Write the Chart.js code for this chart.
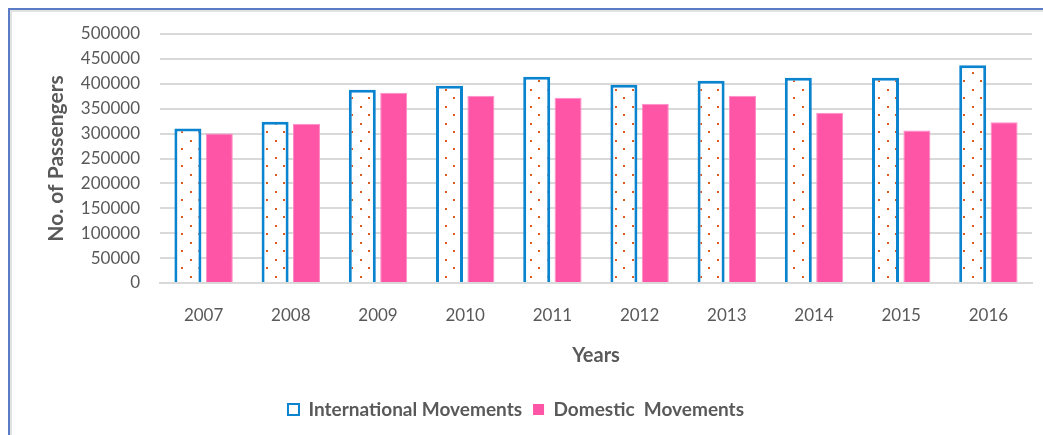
<!DOCTYPE html>
<html>
<head>
<meta charset="utf-8">
<script src="https://cdn.jsdelivr.net/npm/chart.js@4"></script>
<style>
  html, body { margin: 0; padding: 0; background: #fff; }
  #wrap { position: relative; width: 1043px; height: 435px; overflow: hidden; }
  #frame {
    position: absolute; left: 8px; top: 8px; width: 1100px; height: 500px;
    border-left: 2px solid #5a7cc6; border-top: 2px solid #5a7cc6;
    box-shadow: inset 2px 2px 0 #e2e2e2;
  }
  #passengerChart { position: absolute; left: 0; top: 0; }
</style>
</head>
<body>
<div id="wrap">
  <div id="frame"></div>
  <canvas id="passengerChart" width="1043" height="435"></canvas>
</div>
<script>
var years = ['2007', '2008', '2009', '2010', '2011', '2012', '2013', '2014', '2015', '2016'];
var international = [310000, 324000, 388000, 396000, 414000, 398000, 406000, 412000, 412000, 437000];
var domestic = [300000, 320000, 382000, 376000, 372000, 360000, 376000, 342000, 306000, 323000];
var yTicks = [0, 50000, 100000, 150000, 200000, 250000, 300000, 350000, 400000, 450000, 500000];

var font = '"Century Gothic", "URW Gothic", Lato, sans-serif';
var grey = '#595959';
var blue = '#0b84d0';
var pink = '#ff55a6';

// dotted fill for the international bars
var tile = document.createElement('canvas');
tile.width = 17;
tile.height = 17;
var tctx = tile.getContext('2d');
tctx.fillStyle = '#ffffff';
tctx.fillRect(0, 0, 17, 17);
tctx.fillStyle = '#dc5a1e';
tctx.fillRect(3, 4, 2, 2);
tctx.fillRect(11, 12, 2, 2);
var dots = tctx.createPattern(tile, 'repeat');

var chart = new Chart(document.getElementById('passengerChart'), {
    type: 'bar',
    data: {
        labels: years,
        datasets: [{
            label: 'International Movements',
            data: international,
            backgroundColor: dots,
            borderColor: blue,
            borderWidth: 3,
            categoryPercentage: 0.72,
            barPercentage: 0.86
        }, {
            label: 'Domestic  Movements',
            data: domestic,
            backgroundColor: pink,
            borderColor: '#ff8cc6',
            borderWidth: 1,
            categoryPercentage: 0.72,
            barPercentage: 0.86
        }]
    },
    options: {
        responsive: false,
        animation: false,
        layout: { padding: { top: 34, right: 11, left: 0, bottom: 6 } },
        plugins: {
            tooltip: { enabled: false },
            legend: {
                position: 'bottom',
                labels: {
                    color: grey,
                    font: { family: font, size: 19, weight: 'bold' },
                    boxWidth: 11,
                    boxHeight: 11,
                    padding: 11,
                    generateLabels: function (c) {
                        return c.data.datasets.map(function (ds, i) {
                            return {
                                text: ds.label,
                                fillStyle: i === 0 ? '#ffffff' : pink,
                                strokeStyle: i === 0 ? blue : pink,
                                lineWidth: i === 0 ? 2 : 0,
                                fontColor: grey,
                                datasetIndex: i,
                                hidden: false
                            };
                        });
                    }
                }
            }
        },
        scales: {
            x: {
                grid: { display: false },
                border: { color: '#d9d9d9', width: 2 },
                ticks: { color: grey, padding: 14, font: { family: font, size: 17 } },
                title: {
                    display: true, text: 'Years', color: grey,
                    font: { family: font, size: 20, weight: 'bold' },
                    padding: { top: 10, bottom: 21 }
                },
                afterFit: function (s) { s.height = 106; }
            },
            y: {
                min: 0,
                max: 500000,
                afterBuildTicks: function (s) {
                    s.ticks = yTicks.map(function (v) { return { value: v }; });
                },
                grid: { color: '#d9d9d9', lineWidth: 2, drawTicks: false },
                border: { display: false },
                ticks: {
                    color: grey, padding: 20, font: { family: font, size: 17 },
                    callback: function (v) { return String(v); }
                },
                title: {
                    display: true, text: 'No. of Passengers', color: grey,
                    font: { family: font, size: 21, weight: 'bold' },
                    padding: { top: 44, bottom: 0 }
                },
                afterFit: function (s) { s.width = 160; }
            }
        }
    }
});
</script>
</body>
</html>
